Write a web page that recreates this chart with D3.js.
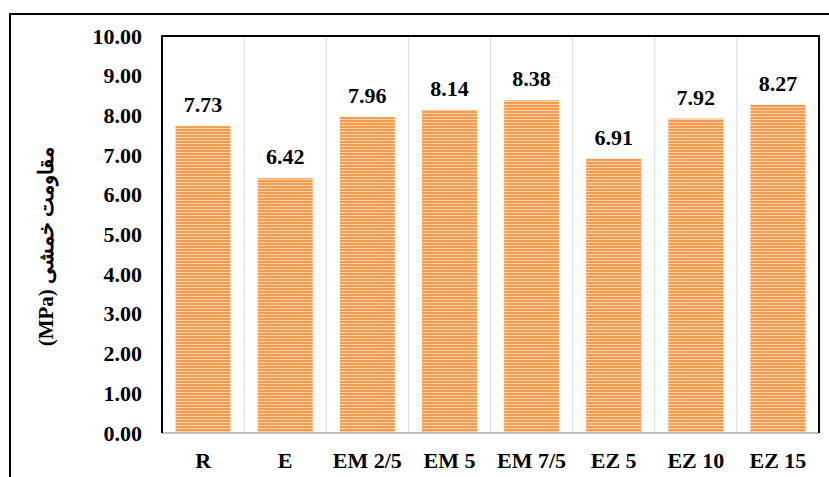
<!DOCTYPE html>
<html>
<head>
<meta charset="utf-8">
<script src="https://cdn.jsdelivr.net/npm/d3@7"></script>
<style>
  body { margin: 0; background: #fff; }
  svg { display: block; }
</style>
</head>
<body>
<svg id="chart"></svg>
<script>
const categories = ['R', 'E', 'EM 2/5', 'EM 5', 'EM 7/5', 'EZ 5', 'EZ 10', 'EZ 15'];
const values = [7.73, 6.42, 7.96, 8.14, 8.38, 6.91, 7.92, 8.27];
const yTicks = [0, 1, 2, 3, 4, 5, 6, 7, 8, 9, 10];
const yTitle = 'مقاومت خمشی  (MPa)';

const width = 829;
const height = 477;
const margin = { top: 36, right: 10, bottom: 44, left: 162 };
const serif = '"Liberation Serif", "Times New Roman", serif';

const svg = d3.select('#chart')
  .attr('width', width)
  .attr('height', height);

// striped fill for bars
const defs = svg.append('defs');
const pat = defs.append('pattern')
  .attr('id', 'stripes')
  .attr('patternUnits', 'userSpaceOnUse')
  .attr('width', 8)
  .attr('height', 3);
pat.append('rect').attr('width', 8).attr('height', 3).attr('fill', '#f79a4c');
pat.append('rect').attr('y', 2).attr('width', 8).attr('height', 1).attr('fill', '#fcd2ad');

// outer frame
svg.append('path')
  .attr('d', `M10,${height + 2} V14 H${width + 2}`)
  .attr('fill', 'none')
  .attr('stroke', '#000')
  .attr('stroke-width', 2);

const x = d3.scaleBand()
  .domain(categories)
  .range([margin.left, width - margin.right]);

const y = d3.scaleLinear()
  .domain([0, 10])
  .range([height - margin.bottom, margin.top]);

const barW = x.bandwidth() * 0.67;

// category separators
svg.append('g')
  .selectAll('line')
  .data(categories.slice(1))
  .join('line')
  .attr('x1', d => x(d))
  .attr('x2', d => x(d))
  .attr('y1', y(10))
  .attr('y2', y(0))
  .attr('stroke', '#d9d9d9')
  .attr('stroke-width', 1);

// bars
svg.append('g')
  .selectAll('rect')
  .data(values)
  .join('rect')
  .attr('x', (d, i) => x(categories[i]) + (x.bandwidth() - barW) / 2)
  .attr('y', d => y(d))
  .attr('width', barW)
  .attr('height', d => y(0) - y(d))
  .attr('fill', 'url(#stripes)');

// value labels
svg.append('g')
  .selectAll('text')
  .data(values)
  .join('text')
  .attr('x', (d, i) => x(categories[i]) + x.bandwidth() / 2)
  .attr('y', d => y(d) - 14)
  .attr('text-anchor', 'middle')
  .attr('font-family', serif)
  .attr('font-weight', 'bold')
  .attr('font-size', 22)
  .text(d => d.toFixed(2));

// bottom axis line (gray)
svg.append('line')
  .attr('x1', margin.left)
  .attr('x2', width - margin.right)
  .attr('y1', y(0))
  .attr('y2', y(0))
  .attr('stroke', '#bfbfbf')
  .attr('stroke-width', 2);

// plot frame: left, top, right
svg.append('path')
  .attr('d', `M${margin.left},${y(0)} V${y(10)} H${width - margin.right} V${y(0)}`)
  .attr('fill', 'none')
  .attr('stroke', '#000')
  .attr('stroke-width', 2);

// y axis tick labels
const yAxis = svg.append('g')
  .attr('transform', `translate(${margin.left},0)`)
  .call(d3.axisLeft(y).tickValues(yTicks).tickFormat(d3.format('.2f')).tickSize(0).tickPadding(20));
yAxis.select('.domain').remove();
yAxis.selectAll('text')
  .attr('font-family', serif)
  .attr('font-weight', 'bold')
  .attr('font-size', 22)
  .attr('fill', '#000');

// x axis labels
const xAxis = svg.append('g')
  .attr('transform', `translate(0,${y(0)})`)
  .call(d3.axisBottom(x).tickSize(0).tickPadding(19));
xAxis.select('.domain').remove();
xAxis.selectAll('text')
  .attr('font-family', serif)
  .attr('font-weight', 'bold')
  .attr('font-size', 22)
  .attr('fill', '#000');

// y title
svg.append('text')
  .attr('transform', `translate(53,${(y(0) + y(10)) / 2 + 12}) rotate(-90)`)
  .attr('text-anchor', 'middle')
  .attr('direction', 'rtl')
  .attr('font-family', serif)
  .attr('font-weight', 'bold')
  .attr('font-size', 21)
  .text(yTitle);
</script>
</body>
</html>
